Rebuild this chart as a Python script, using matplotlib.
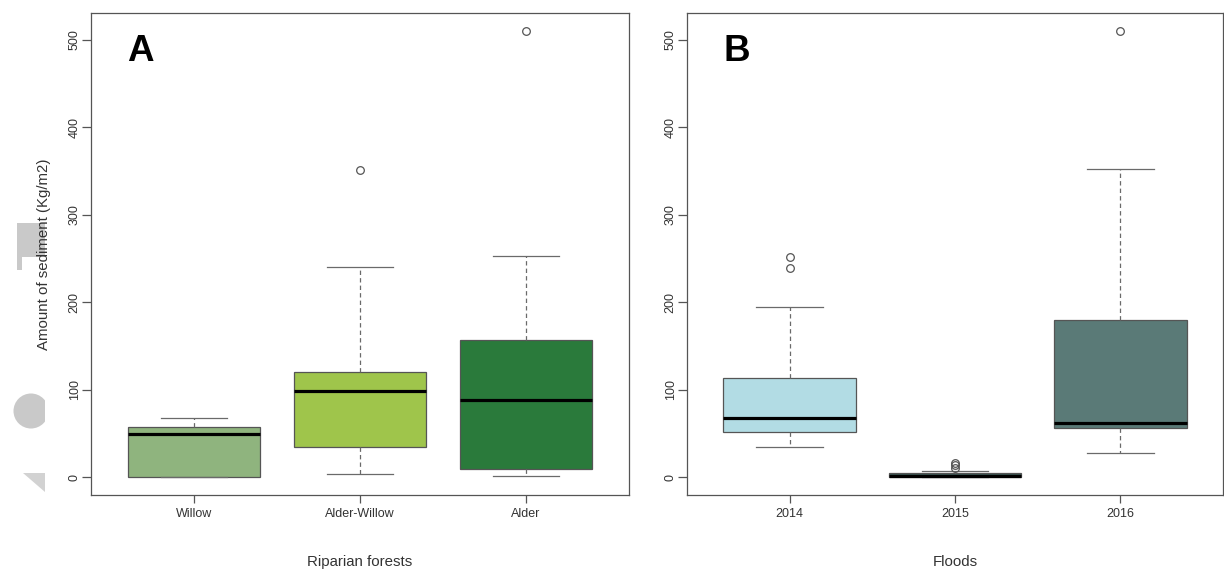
import matplotlib
matplotlib.use("Agg")
import matplotlib.pyplot as plt
from matplotlib.patches import Rectangle, Circle, Polygon

plt.rcParams['font.family'] = ['Liberation Sans', 'DejaVu Sans']

# Panel A: sediment by riparian forest type (box statistics)
forest_labels = ["Willow", "Alder-Willow", "Alder"]
forest_whislo = [0.0, 3.5, 0.8]
forest_q1 = [0.5, 34.8, 9.8]
forest_med = [49.8, 98.4, 87.8]
forest_q3 = [56.9, 120.3, 156.2]
forest_whishi = [67.6, 240.0, 252.5]
forest_fliers = [[], [351.0], [509.5]]
forest_colors = ["#8fb47e", "#9fc54b", "#2a7a3b"]

# Panel B: sediment by flood year (box statistics)
flood_labels = ["2014", "2015", "2016"]
flood_whislo = [34.5, 0.0, 27.6]
flood_q1 = [52.0, 0.3, 55.8]
flood_med = [67.3, 1.8, 62.2]
flood_q3 = [113.5, 4.8, 179.6]
flood_whishi = [194.2, 7.5, 352.0]
flood_fliers = [[239.0, 252.0], [11.0, 13.5, 16.0], [509.5]]
flood_colors = ["#b2dce4", "#3a5753", "#5a7a77"]

y_ticks = [0, 100, 200, 300, 400, 500]

W, H = 1224, 574
fig = plt.figure(figsize=(W / 100, H / 100), dpi=100)
fig.patch.set_facecolor("white")

# faint grey shapes along the left margin
bg = fig.add_axes([0, 0, 1, 1], zorder=-5)
bg.set_xlim(0, W)
bg.set_ylim(H, 0)
bg.axis("off")
shape_col = "#c9c9c9"
bg.add_patch(Rectangle((17, 223), 28, 34, color=shape_col, lw=0))
bg.add_patch(Rectangle((17, 257), 5, 13, color=shape_col, lw=0))
circ = Circle((31, 411), 17.5, color=shape_col, lw=0)
bg.add_patch(circ)
circ.set_clip_path(Rectangle((0, 380), 45, 60, transform=bg.transData))
bg.add_patch(Polygon([(23, 473), (45, 473), (45, 492)], closed=True,
                     color="#d2d2d2", lw=0))

frame_col = "#555555"
line_col = "#6a6a6a"
text_col = "#333333"


def make_stats(labels, lo, q1, med, q3, hi, fl):
    return [dict(label=l, whislo=a, q1=b, med=c, q3=d, whishi=e, fliers=f)
            for l, a, b, c, d, e, f in zip(labels, lo, q1, med, q3, hi, fl)]


def draw_panel(rect, stats, colors, xlabel, letter, ylabel=None):
    ax = fig.add_axes(rect)
    bp = ax.bxp(stats, positions=[1, 2, 3], widths=0.8, capwidths=0.4,
                patch_artist=True, showfliers=True,
                boxprops=dict(edgecolor=frame_col, linewidth=0.9),
                medianprops=dict(color="black", linewidth=2.3,
                                 solid_capstyle="butt"),
                whiskerprops=dict(color=line_col, linewidth=0.9,
                                  linestyle=(0, (3.5, 2.5))),
                capprops=dict(color=line_col, linewidth=0.9),
                flierprops=dict(marker="o", markersize=5.5,
                                markerfacecolor="none",
                                markeredgecolor=frame_col,
                                markeredgewidth=0.9, linestyle="none"))
    for patch, c in zip(bp["boxes"], colors):
        patch.set_facecolor(c)
    ax.set_xlim(0.38, 3.62)
    ax.set_ylim(-20.4, 530.4)
    ax.set_yticks(y_ticks)
    ax.set_yticklabels([str(v) for v in y_ticks])
    for lab in ax.get_yticklabels():
        lab.set_rotation(90)
        lab.set_va("center")
        lab.set_ha("right")
    ax.tick_params(axis="y", length=6.5, width=0.9, color=frame_col,
                   pad=1.0, labelsize=9, labelcolor=text_col)
    ax.tick_params(axis="x", length=6, width=0.9, color=frame_col,
                   pad=3.6, labelsize=9, labelcolor=text_col)
    for sp in ax.spines.values():
        sp.set_color(frame_col)
        sp.set_linewidth(0.9)
    ax.text(0.5, -0.139, xlabel, transform=ax.transAxes, ha="center",
            va="center", fontsize=10.8, color=text_col)
    if ylabel:
        ax.text(-0.087, 0.5, ylabel, transform=ax.transAxes, ha="center",
                va="center", rotation=90, fontsize=10.8, color=text_col)
    ax.text(0.60, 475, letter, ha="left", va="baseline", fontsize=26.5,
            fontweight="bold", color="black")
    return ax


top, bottom = 13, 495
hfrac = (bottom - top) / H
yfrac = (H - bottom) / H

draw_panel([91 / W, yfrac, 538 / W, hfrac],
           make_stats(forest_labels, forest_whislo, forest_q1, forest_med,
                      forest_q3, forest_whishi, forest_fliers),
           forest_colors, "Riparian forests", "A",
           ylabel="Amount of sediment (Kg/m2)")

draw_panel([687 / W, yfrac, 536 / W, hfrac],
           make_stats(flood_labels, flood_whislo, flood_q1, flood_med,
                      flood_q3, flood_whishi, flood_fliers),
           flood_colors, "Floods", "B")

fig.savefig("out.png", dpi=100, facecolor="white")
